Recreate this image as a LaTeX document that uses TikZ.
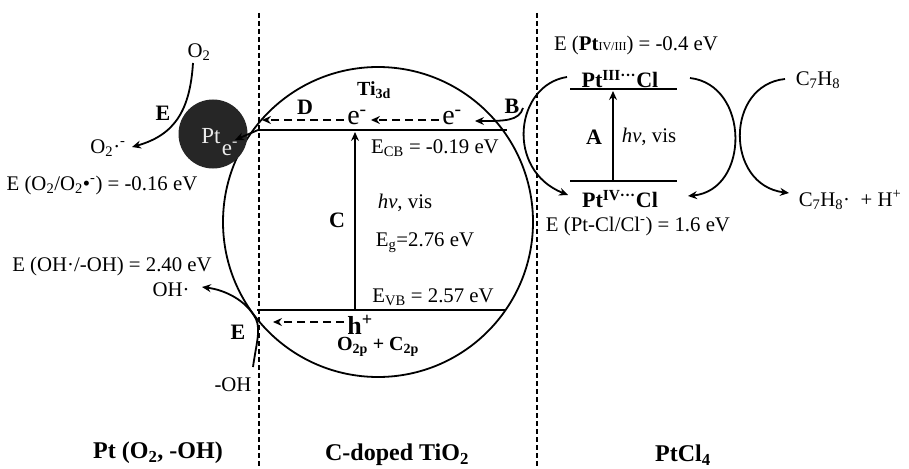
\documentclass[tikz,border=0pt]{standalone}
\usepackage{fontspec}
\setmainfont{Liberation Serif}
\usetikzlibrary{arrows.meta}
\begin{document}
\begin{tikzpicture}[x=1pt,y=-1pt,
  lbl/.style={inner sep=0pt, font=\fontsize{20.8}{23}\selectfont},
  blbl/.style={inner sep=0pt, font=\fontsize{22}{25}\selectfont\bfseries},
  elbl/.style={inner sep=0pt, font=\fontsize{28}{30}\selectfont},
  ttl/.style={inner sep=0pt, font=\fontsize{24}{27}\selectfont\bfseries},
  ln/.style={line width=1.9pt},
  arr/.style={line width=1.8pt, -{Stealth[length=9pt,width=8pt,inset=3pt]}},
  darr/.style={arr, dash pattern=on 8pt off 5pt},
  vdash/.style={line width=1.7pt, dash pattern=on 5pt off 3pt},
]
\useasboundingbox (0,0) rectangle (909,468);
\fill[white] (0,0) rectangle (909,468);

% region separators
\coordinate (s1t) at (259,13); \coordinate (s1b) at (259,468);
\coordinate (s2t) at (537,13); \coordinate (s2b) at (537,468);
\draw[vdash] (s1t) -- (s1b);
\draw[vdash] (s2t) -- (s2b);

% TiO2 particle
\node[draw, circle, line width=1.8pt, minimum size=310pt, inner sep=0pt] (tio2) at (378,222) {};

% Pt particle
\node[circle, fill=black!85, minimum size=69pt, inner sep=0pt] (pt) at (213,134) {};
\node[lbl, font=\fontsize{23}{25}\selectfont, text=black!8] (pttxt) at (211,136) {Pt};
\node[lbl, font=\fontsize{23}{25}\selectfont, text=black!8] (pte) at (230,149) {e\textsuperscript{-}};

% bands
\coordinate (cbL) at (258,130); \coordinate (cbR) at (507,130);
\coordinate (vbL) at (257,310); \coordinate (vbR) at (505,310);
\coordinate (ptin) at (235,140);
\draw[ln] (cbL) -- (cbR);
\draw[ln] (vbL) -- (vbR);
\draw[arr] (cbL) -- (ptin);
\coordinate (cB) at (355,310); \coordinate (cT) at (355,132);
\draw[arr] (cB) -- (cT);

% electrons
\node[elbl] (e1) at (357,117) {e\textsuperscript{-}};
\node[elbl] (e2) at (452,117) {e\textsuperscript{-}};
\coordinate (dEnd) at (262,120);
\draw[darr] ([xshift=-3pt]e1.west |- dEnd) -- (dEnd);
\draw[darr] ([xshift=-3pt]e2.west |- dEnd) -- ([xshift=4pt]e1.east |- dEnd);

% hole
\node[blbl, font=\fontsize{26}{28}\selectfont\bfseries] (h) at (360,325) {h\textsuperscript{+}};
\coordinate (hEnd) at (273,322);
\draw[darr] ([xshift=-3pt]h.west |- hEnd) -- (hEnd);

% TiO2 labels
\node[blbl, font=\fontsize{20}{22}\selectfont\bfseries] (ti3d) at (374,90) {Ti\textsubscript{3d}};
\node[blbl] (D) at (305,107) {D};
\node[blbl] (B) at (512,106) {B};
\node[blbl] (C) at (337,220) {C};
\node[lbl] (ecb) at (435,148) {E\textsubscript{CB} = -0.19 eV};
\node[lbl] (hv1) at (405,203) {\textit{hv}, vis};
\node[lbl] (eg) at (425,243) {E\textsubscript{g}=2.76 eV};
\node[lbl] (evb) at (433,297) {E\textsubscript{VB} = 2.57 eV};
\node[blbl, font=\fontsize{20}{22}\selectfont\bfseries] (o2p) at (378,347) {O\textsubscript{2p} + C\textsubscript{2p}};

% Pt side
\node[lbl] (o2) at (199,52) {O\textsubscript{2}};
\node[lbl] (o2r) at (108,148) {O\textsubscript{2}·\textsuperscript{-}};
\node[blbl] (E1) at (163,113) {E};
\node[lbl] (eo2) at (102,185) {E (O\textsubscript{2}/O\textsubscript{2}•\textsuperscript{-}) = -0.16 eV};
\coordinate (o2s) at (193,63); \coordinate (o2t) at (132,147);
\draw[arr] (o2s) .. controls (190,110) and (175,135) .. (o2t);

\node[lbl] (eoh) at (112,266) {E (OH·/-OH) = 2.40 eV};
\node[lbl] (ohr) at (171,290) {OH·};
\node[blbl] (E2) at (238,332) {E};
\node[lbl] (ohm) at (233,385) {-OH};
\coordinate (ohs) at (253,367); \coordinate (ohm1) at (256,319); \coordinate (oht) at (202,287);
\draw[arr] (ohs) .. controls (256,345) and (261,330) .. (ohm1) .. controls (246,300) and (225,290) .. (oht);

% PtCl4 side
\node[lbl] (ept) at (636,45) {E (\textbf{Pt}{\fontsize{12}{14}\selectfont IV/III}) = -0.4 eV};
\node[blbl] (pt3) at (620,79) {Pt\textsuperscript{III···}Cl};
\node[blbl] (pt4) at (620,199) {Pt\textsuperscript{IV···}Cl};
\coordinate (l3a) at (570,89); \coordinate (l3b) at (677,89);
\coordinate (l4a) at (570,181); \coordinate (l4b) at (677,181);
\draw[ln] (l3a) -- (l3b);
\draw[ln] (l4a) -- (l4b);
\coordinate (aB) at (613,181); \coordinate (aT) at (613,91);
\draw[arr] (aB) -- (aT);
\node[blbl] (A) at (594,137) {A};
\node[lbl] (hv2) at (649,137) {\textit{hv}, vis};
\node[lbl] (eptcl) at (638,226) {E (Pt-Cl/Cl\textsuperscript{-}) = 1.6 eV};

\coordinate (bls) at (567,77); \coordinate (ble) at (568,195);
\draw[arr] (bls) .. controls (515,85) and (505,170) .. (ble);
\coordinate (bbs) at (523,108); \coordinate (bbe) at (475,121);
\draw[arr] (bbs) .. controls (519,121) and (505,121) .. (bbe);

\coordinate (r1s) at (690,78); \coordinate (r1e) at (688,196);
\draw[arr] (r1s) .. controls (750,85) and (750,190) .. (r1e);

\node[lbl] (c7h8) at (818,80) {C\textsubscript{7}H\textsubscript{8}};
\node[lbl] (c7h8r) at (850,200) {C\textsubscript{7}H\textsubscript{8}·\ \ + H\textsuperscript{+}};
\coordinate (r2s) at (785,79); \coordinate (r2e) at (789,193);
\draw[arr] (r2s) .. controls (725,85) and (725,185) .. (r2e);

% region titles
\node[ttl] (t1) at (158,453) {Pt (O\textsubscript{2}, -OH)};
\node[ttl] (t2) at (397,455) {C-doped TiO\textsubscript{2}};
\node[ttl] (t3) at (683,455) {PtCl\textsubscript{4}};
\end{tikzpicture}
\end{document}
